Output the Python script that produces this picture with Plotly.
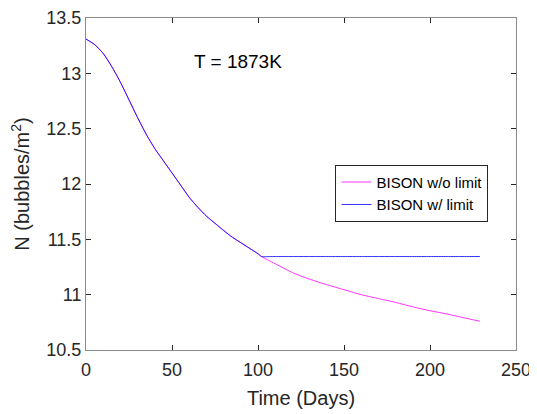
import plotly.graph_objects as go

# Time (days) and bubble density values
t_common = [0, 5, 10, 15, 20, 25, 30, 35, 40, 45, 50, 55, 60, 65, 70, 75, 80, 85, 90, 95, 100, 102]
n_common = [13.31, 13.26, 13.18, 13.06, 12.92, 12.76, 12.60, 12.45, 12.32, 12.21, 12.10, 11.99,
            11.88, 11.79, 11.71, 11.645, 11.58, 11.52, 11.47, 11.42, 11.37, 11.345]

t_tail = [110, 120, 130, 140, 150, 160, 170, 180, 190, 200, 210, 220, 229]
n_nolimit_tail = [11.28, 11.20, 11.14, 11.09, 11.045, 11.00, 10.965, 10.93, 10.89, 10.855, 10.825, 10.79, 10.76]
n_limit_value = 11.345

t_nolimit = t_common + t_tail
n_nolimit = n_common + n_nolimit_tail
t_limit = t_common + t_tail
n_limit = n_common + [n_limit_value] * len(t_tail)

x_ticks = [0, 50, 100, 150, 200, 250]
y_ticks = [10.5, 11, 11.5, 12, 12.5, 13, 13.5]

FONT = "Liberation Sans, Arial, sans-serif"
TXT = "#262626"

fig = go.Figure()
fig.add_trace(go.Scatter(x=t_nolimit, y=n_nolimit, mode="lines", name="BISON w/o limit",
                         line=dict(color="#FF00FF", width=0.8, shape="spline", smoothing=0.8)))
fig.add_trace(go.Scatter(x=t_limit, y=n_limit, mode="lines", name="BISON w/ limit",
                         line=dict(color="#0000FF", width=0.8, shape="spline", smoothing=0.5)))

fig.add_annotation(x=61.6, y=13.107, xref="x", yref="y", text="T = 1873K", showarrow=False,
                   xanchor="left", yanchor="middle", font=dict(family=FONT, size=19, color="#000000"))

axis_common = dict(
    showgrid=False, zeroline=False, showline=True, linecolor="#8a8a8a", linewidth=1,
    mirror="ticks", ticks="inside", ticklen=5, tickcolor="#262626", tickwidth=1,
    tickfont=dict(family=FONT, size=18, color=TXT), automargin=False,
)

# The page body adds an 8px offset, so the figure is sized to fit the remaining window
fig.update_layout(
    width=529, height=406,
    margin=dict(l=78, r=21, t=10, b=64),
    paper_bgcolor="white", plot_bgcolor="white",
    font=dict(family=FONT, color=TXT),
    xaxis=dict(range=[0, 250], tickvals=x_ticks, ticktext=[str(v) for v in x_ticks],
               ticklabelstandoff=3,
               title=dict(text="Time (Days)", font=dict(family=FONT, size=20, color=TXT), standoff=12),
               **axis_common),
    yaxis=dict(range=[10.5, 13.5], tickvals=y_ticks, ticktext=[f"{v:g}" for v in y_ticks],
               title=dict(text="N (bubbles/m<sup>2</sup>)", font=dict(family=FONT, size=20, color=TXT), standoff=13),
               **axis_common),
    legend=dict(x=0.936, y=0.558, xanchor="right", yanchor="top",
                bgcolor="white", bordercolor="#262626", borderwidth=1,
                font=dict(family=FONT, size=15, color="#000000"),
                itemwidth=30, tracegroupgap=0),
    showlegend=True,
)

fig.write_html("out.html")
